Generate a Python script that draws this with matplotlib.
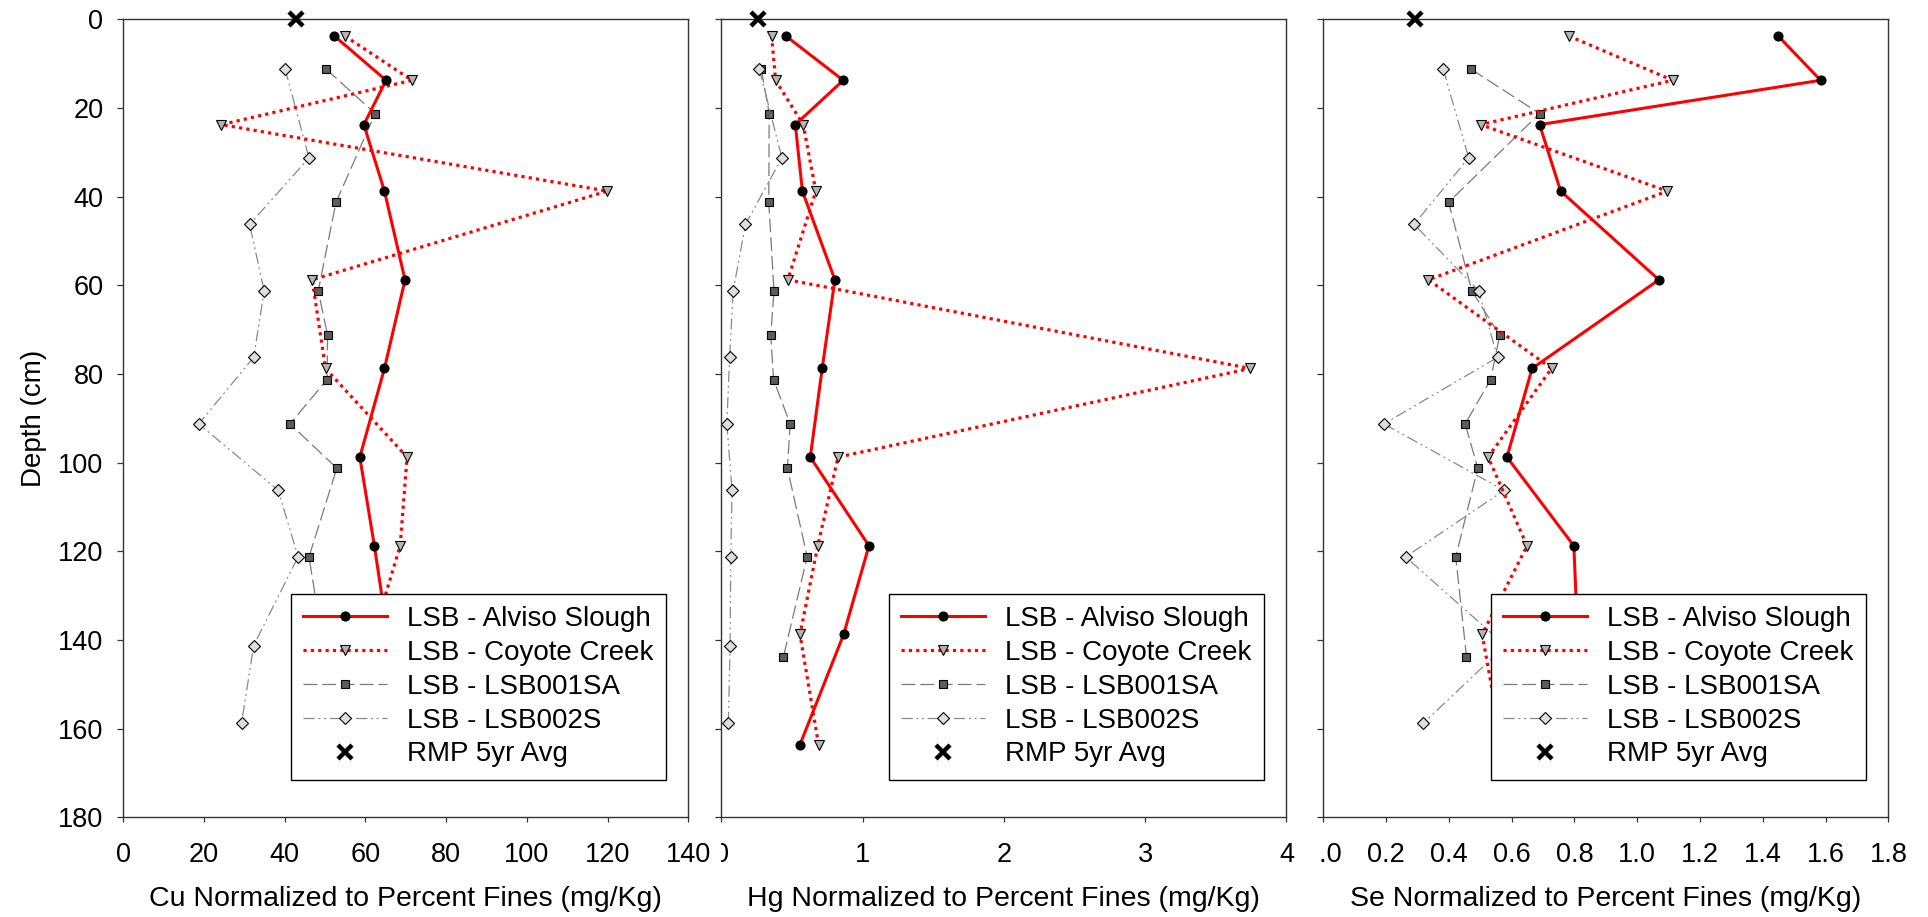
import numpy as np
import matplotlib
matplotlib.use("Agg")
import matplotlib.pyplot as plt
from matplotlib.transforms import Bbox, TransformedBbox

plt.rcParams['font.family'] = ['Liberation Sans', 'DejaVu Sans']

# sample depths (cm) for each core
alviso_depth = [3.75, 13.75, 23.75, 38.75, 58.75, 78.75, 98.75, 118.75, 138.75, 163.75]
coyote_depth = [3.75, 13.75, 23.75, 38.75, 58.75, 78.75, 98.75, 118.75, 138.75, 163.75]
sa_depth = [11.25, 21.25, 41.25, 61.25, 71.25, 81.25, 91.25, 101.25, 121.25, 143.75]
s2_depth = [11.25, 31.25, 46.25, 61.25, 76.25, 91.25, 106.25, 121.25, 141.25, 158.75]
rmp_depth = 0

# Cu normalized to percent fines (mg/Kg)
alviso_cu = [52.3, 65.1, 59.6, 64.7, 69.8, 64.7, 58.6, 62.2, 65.5, 61.0]
coyote_cu = [54.9, 71.5, 24.3, 119.9, 46.8, 50.1, 70.3, 68.6, 62.0, 60.0]
sa_cu = [50.3, 62.4, 52.7, 48.3, 50.6, 50.5, 41.3, 52.9, 46.0, 50.0]
s2_cu = [40.1, 46.0, 31.3, 34.9, 32.3, 18.7, 38.4, 43.3, 32.3, 29.3]
rmp_cu = 42.7

# Hg normalized to percent fines (mg/Kg)
alviso_hg = [0.457, 0.863, 0.524, 0.574, 0.804, 0.714, 0.630, 1.045, 0.866, 0.555]
coyote_hg = [0.356, 0.384, 0.580, 0.669, 0.471, 3.745, 0.826, 0.683, 0.557, 0.689]
sa_hg = [0.283, 0.339, 0.336, 0.373, 0.350, 0.370, 0.487, 0.468, 0.608, 0.440]
s2_hg = [0.269, 0.429, 0.171, 0.084, 0.059, 0.039, 0.076, 0.067, 0.062, 0.050]
rmp_hg = 0.258

# Se normalized to percent fines (mg/Kg)
alviso_se = [1.449, 1.584, 0.689, 0.756, 1.069, 0.665, 0.585, 0.798, 0.81, 0.75]
coyote_se = [0.782, 1.113, 0.501, 1.096, 0.335, 0.727, 0.525, 0.649, 0.506, 0.57]
sa_se = [0.471, 0.689, 0.399, 0.473, 0.562, 0.533, 0.452, 0.492, 0.422, 0.456]
s2_se = [0.382, 0.463, 0.289, 0.495, 0.555, 0.193, 0.576, 0.262, 0.58, 0.319]
rmp_se = 0.291

depth_ticks = list(range(0, 181, 20))


def draw_panel(ax, alviso, coyote, sa, s2, rmp, xmax, xticks, fmt, xlabel):
    '''
    Draw one depth profile panel with the four cores and the RMP average.
    '''
    ax.plot(alviso, alviso_depth, color='red', lw=2.2, marker='o', ms=6.3,
            mfc='black', mec='black', label='LSB - Alviso Slough', zorder=4)
    ax.plot(coyote, coyote_depth, color='red', lw=2.3, ls=(0, (1, 1.3)),
            marker='v', ms=7.5, mfc='#b4b4b4', mec='black', mew=0.8,
            label='LSB - Coyote Creek', zorder=3)
    ax.plot(sa, sa_depth, color='#7a7a7a', lw=0.9, ls=(0, (11, 4)),
            marker='s', ms=5.8, mfc='#5c5c5c', mec='black', mew=0.8,
            label='LSB - LSB001SA', zorder=2)
    ax.plot(s2, s2_depth, color='#8a8a8a', lw=0.9, ls=(0, (9, 3, 1.5, 3, 1.5, 3)),
            marker='D', ms=6.6, mfc='#dedede', mec='black', mew=0.8,
            label='LSB - LSB002S', zorder=2)
    ax.plot([rmp], [rmp_depth], ls='none', marker='x', ms=10, mew=3.2,
            color='black', label='RMP 5yr Avg', clip_on=False, zorder=5)

    ax.set_xlim(0, xmax)
    ax.set_ylim(180, 0)
    ax.set_xticks(xticks)
    ax.set_xticklabels([fmt.format(t) for t in xticks])
    ax.set_yticks(depth_ticks)
    ax.tick_params(axis='x', direction='out', length=3.8, width=0.9,
                   labelsize=19.5, pad=14, color='#333333')
    ax.tick_params(axis='y', direction='out', length=4.3, width=0.9,
                   labelsize=19.5, pad=10, color='#333333')
    for sp in ax.spines.values():
        sp.set_linewidth(1.0)
        sp.set_color('#333333')
    ax.set_xlabel(xlabel, fontsize=20.5, labelpad=13)

    leg = ax.legend(loc='lower right', bbox_to_anchor=(0.961, 0.047),
                    borderaxespad=0, fontsize=20, frameon=True, fancybox=False,
                    framealpha=1, edgecolor='black', handlelength=3.0,
                    handletextpad=0.75, labelspacing=0.28, borderpad=0.45)
    leg.get_frame().set_linewidth(1.0)
    leg.set_zorder(10)
    return ax


fig = plt.figure(figsize=(19.28, 9.17), dpi=100)
bottom, height, width = 0.1087, 0.8702, 0.2931
ax_cu = fig.add_axes([0.06395, bottom, width, height])
ax_hg = fig.add_axes([0.37412, bottom, width, height])
ax_se = fig.add_axes([0.68636, bottom, width, height])

draw_panel(ax_cu, alviso_cu, coyote_cu, sa_cu, s2_cu, rmp_cu, 140,
           list(range(0, 141, 20)), '{:d}', 'Cu Normalized to Percent Fines (mg/Kg)')
draw_panel(ax_hg, alviso_hg, coyote_hg, sa_hg, s2_hg, rmp_hg, 4,
           [0, 1, 2, 3, 4], '{:d}', 'Hg Normalized to Percent Fines (mg/Kg)')
draw_panel(ax_se, alviso_se, coyote_se, sa_se, s2_se, rmp_se, 1.8,
           list(np.round(np.arange(0, 1.81, 0.2), 1)), '{:.1f}',
           'Se Normalized to Percent Fines (mg/Kg)')

ax_cu.set_ylabel('Depth (cm)', fontsize=20, labelpad=8)
ax_hg.set_yticklabels([])
ax_se.set_yticklabels([])

# the first x label of the right panels is cut at the panel's left edge
fig.canvas.draw()
for ax, off in ((ax_hg, 0.0), (ax_se, 0.0025)):
    x0 = ax.get_position().x0 - off
    clip = TransformedBbox(Bbox([[x0, 0], [1, 1]]), fig.transFigure)
    for lab in ax.get_xticklabels():
        lab.set_clip_box(clip)
        lab.set_clip_on(True)

fig.savefig('out.png', dpi=100)
